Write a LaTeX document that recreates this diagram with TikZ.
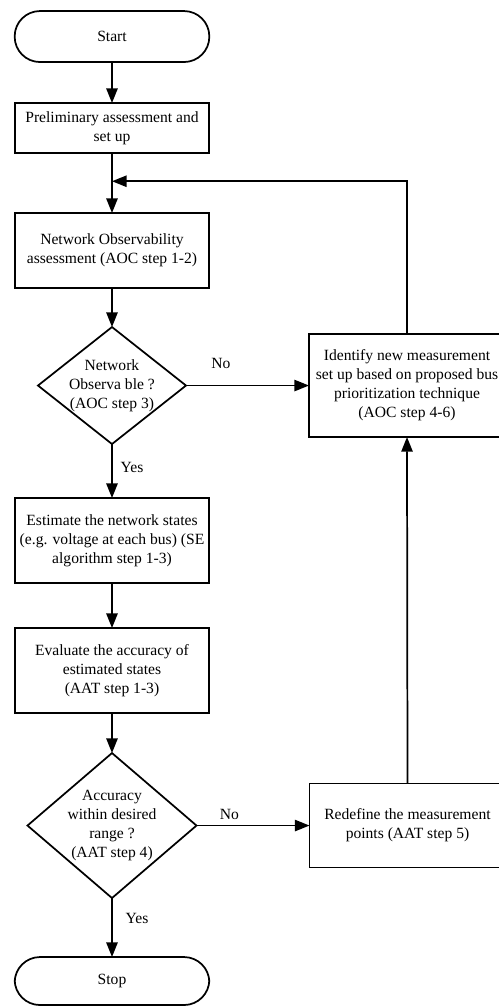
\documentclass[tikz,border=0pt]{standalone}
\usepackage{fontspec}
\setmainfont{Liberation Serif}
\usetikzlibrary{arrows.meta, shapes.geometric, positioning, calc}

\begin{document}
\begin{tikzpicture}[
  box/.style={draw, line width=1.3pt, align=center, minimum width=146pt, inner sep=2pt, outer sep=0pt},
  term/.style={draw, line width=1.3pt, rounded corners=19pt, minimum width=146pt, outer sep=0pt},
  dec/.style={draw, line width=1.3pt, diamond, inner sep=0pt, outer sep=0pt},
  arr/.style={-{Triangle[length=11pt,width=8.5pt]}, line width=1.3pt},
  lbl/.style={inner sep=0pt},
  font=\fontsize{11.7}{14.2}\selectfont
]
  \useasboundingbox (0,0) rectangle (374.25pt,-756pt);

  % Main column
  \node[term, minimum height=38.25pt] (start) at (84pt,-27.4pt) {Start};
  \node[box, minimum height=37.5pt, below=30.75pt of start]
       (pre) {Preliminary assessment and\\set up};
  \node[box, minimum height=56.25pt, below=45pt of pre]
       (net) {Network Observability\\assessment (AOC step 1-2)};
  \node[dec, minimum width=111pt, minimum height=87.75pt, below=29.25pt of net,
        label={[align=center]center:Network\\Observa ble ?\\(AOC step 3)}] (obs) {};
  \node[box, minimum height=63.75pt, below=40.5pt of obs]
       (est) {Estimate the network states\\(e.g. voltage at each bus) (SE\\algorithm step 1-3)};
  \node[box, minimum height=63.75pt, below=33.75pt of est]
       (eval) {Evaluate the accuracy of\\estimated states\\(AAT step 1-3)};
  \node[dec, minimum width=126.75pt, minimum height=108.75pt, below=30pt of eval,
        label={[align=center]center:Accuracy\\within desired\\range ?\\(AAT step 4)}] (acc) {};
  \node[term, minimum height=36pt, below=44.25pt of acc] (stop) {Stop};

  % Right column
  \node[box, minimum width=147pt, minimum height=77.25pt, right=92.25pt of obs]
       (ident) {Identify new measurement\\set up based on proposed bus\\prioritization technique\\(AOC step 4-6)};
  \node[box, minimum width=147pt, minimum height=63pt, right=84.75pt of acc]
       (redef) {Redefine the measurement\\points (AAT step 5)};

  \coordinate (join) at ($(pre.south)!0.47!(net.north)$);

  \draw[arr] (start) -- (pre);
  \draw[arr] (pre) -- (net);
  \draw[arr] (net) -- (obs);
  \draw[arr] (obs) -- (est);
  \draw[arr] (est) -- (eval);
  \draw[arr] (eval) -- (acc);
  \draw[arr] (acc) -- (stop);
  \draw[arr] (obs.east) -- (ident.west);
  \draw[arr] (acc.east) -- (redef.west);
  \draw[arr] (redef.north) -- (ident.south);
  \draw[arr] (ident.north) |- (join);

  % Branch labels
  \node[lbl] (no1) at ($(obs.east)+(26.25pt,16.5pt)$) {No};
  \node[lbl] (yes1) at ($(obs.south)+(15pt,-17.25pt)$) {Yes};
  \node[lbl] (no2) at ($(acc.east)+(24.75pt,8.25pt)$) {No};
  \node[lbl] (yes2) at ($(acc.south)+(18.75pt,-15pt)$) {Yes};
\end{tikzpicture}
\end{document}
